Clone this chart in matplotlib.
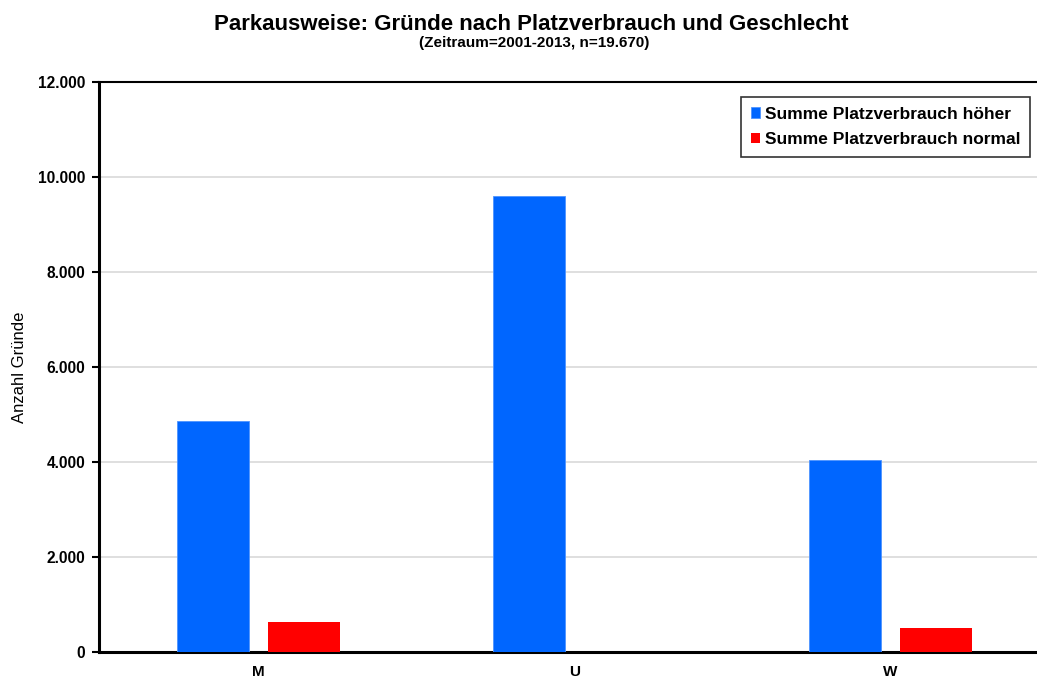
import numpy as np
import matplotlib
matplotlib.use("Agg")
import matplotlib.pyplot as plt
from matplotlib.ticker import FuncFormatter

plt.rcParams['font.family'] = ['Liberation Sans', 'DejaVu Sans']

# Data
categories = ['M', 'U', 'W']
hoeher = [4875, 9610, 4045]
normal = [625, 0, 515]
series_names = ['Summe Platzverbrauch höher', 'Summe Platzverbrauch normal']
yticks = [0, 2000, 4000, 6000, 8000, 10000, 12000]

fig = plt.figure(figsize=(10.37, 6.8), dpi=100)
ax = fig.add_axes([0.0955, 0.041, 0.914, 0.838])

x = np.arange(len(categories))
w = 0.228
off = 0.143
ax.bar(x - off, hoeher, w, color='#0066ff', edgecolor='#4d94ff', linewidth=0.6,
       label=series_names[0], zorder=3)
ax.bar(x + off, normal, w, color='#ff0000', label=series_names[1], zorder=3)

ax.set_xlim(-0.505, 2.495)
ax.set_ylim(0, 12000)
ax.set_yticks(yticks)
ax.yaxis.set_major_formatter(FuncFormatter(lambda v, p: f"{int(v):,}".replace(',', '.')))
ax.set_xticks(x)
ax.set_xticklabels(categories)
ax.tick_params(axis='x', length=0, pad=9)
ax.tick_params(axis='y', length=5, width=1.5, direction='out', pad=5)
for lbl in ax.get_xticklabels():
    lbl.set_fontweight('bold')
    lbl.set_fontsize(11)
for lbl in ax.get_yticklabels():
    lbl.set_fontweight('bold')
    lbl.set_fontsize(11.2)

ax.yaxis.grid(True, color='#d9d9d9', linewidth=1.2, zorder=0)
ax.set_axisbelow(True)
for s in ['left', 'bottom']:
    ax.spines[s].set_linewidth(2.2)
ax.spines['top'].set_linewidth(1.5)
ax.spines['right'].set_visible(False)

ax.set_ylabel('Anzahl Gründe', fontsize=12, labelpad=8)

fig.text(0.512, 0.956, 'Parkausweise: Gründe nach Platzverbrauch und Geschlecht',
         ha='center', va='baseline', fontsize=16, fontweight='bold')
fig.text(0.515, 0.931, '(Zeitraum=2001-2013, n=19.670)',
         ha='center', va='baseline', fontsize=11, fontweight='bold')

leg = ax.legend(loc='upper right', bbox_to_anchor=(0.993, 0.857),
                bbox_transform=fig.transFigure, frameon=True, fancybox=False,
                handlelength=0.55, handleheight=0.55, handletextpad=0.25,
                borderpad=0.55, labelspacing=0.6, borderaxespad=0,
                prop={'weight': 'bold', 'size': 12.5})
leg.get_frame().set_edgecolor('black')
leg.get_frame().set_linewidth(1.2)

fig.savefig('out.png', dpi=100)
